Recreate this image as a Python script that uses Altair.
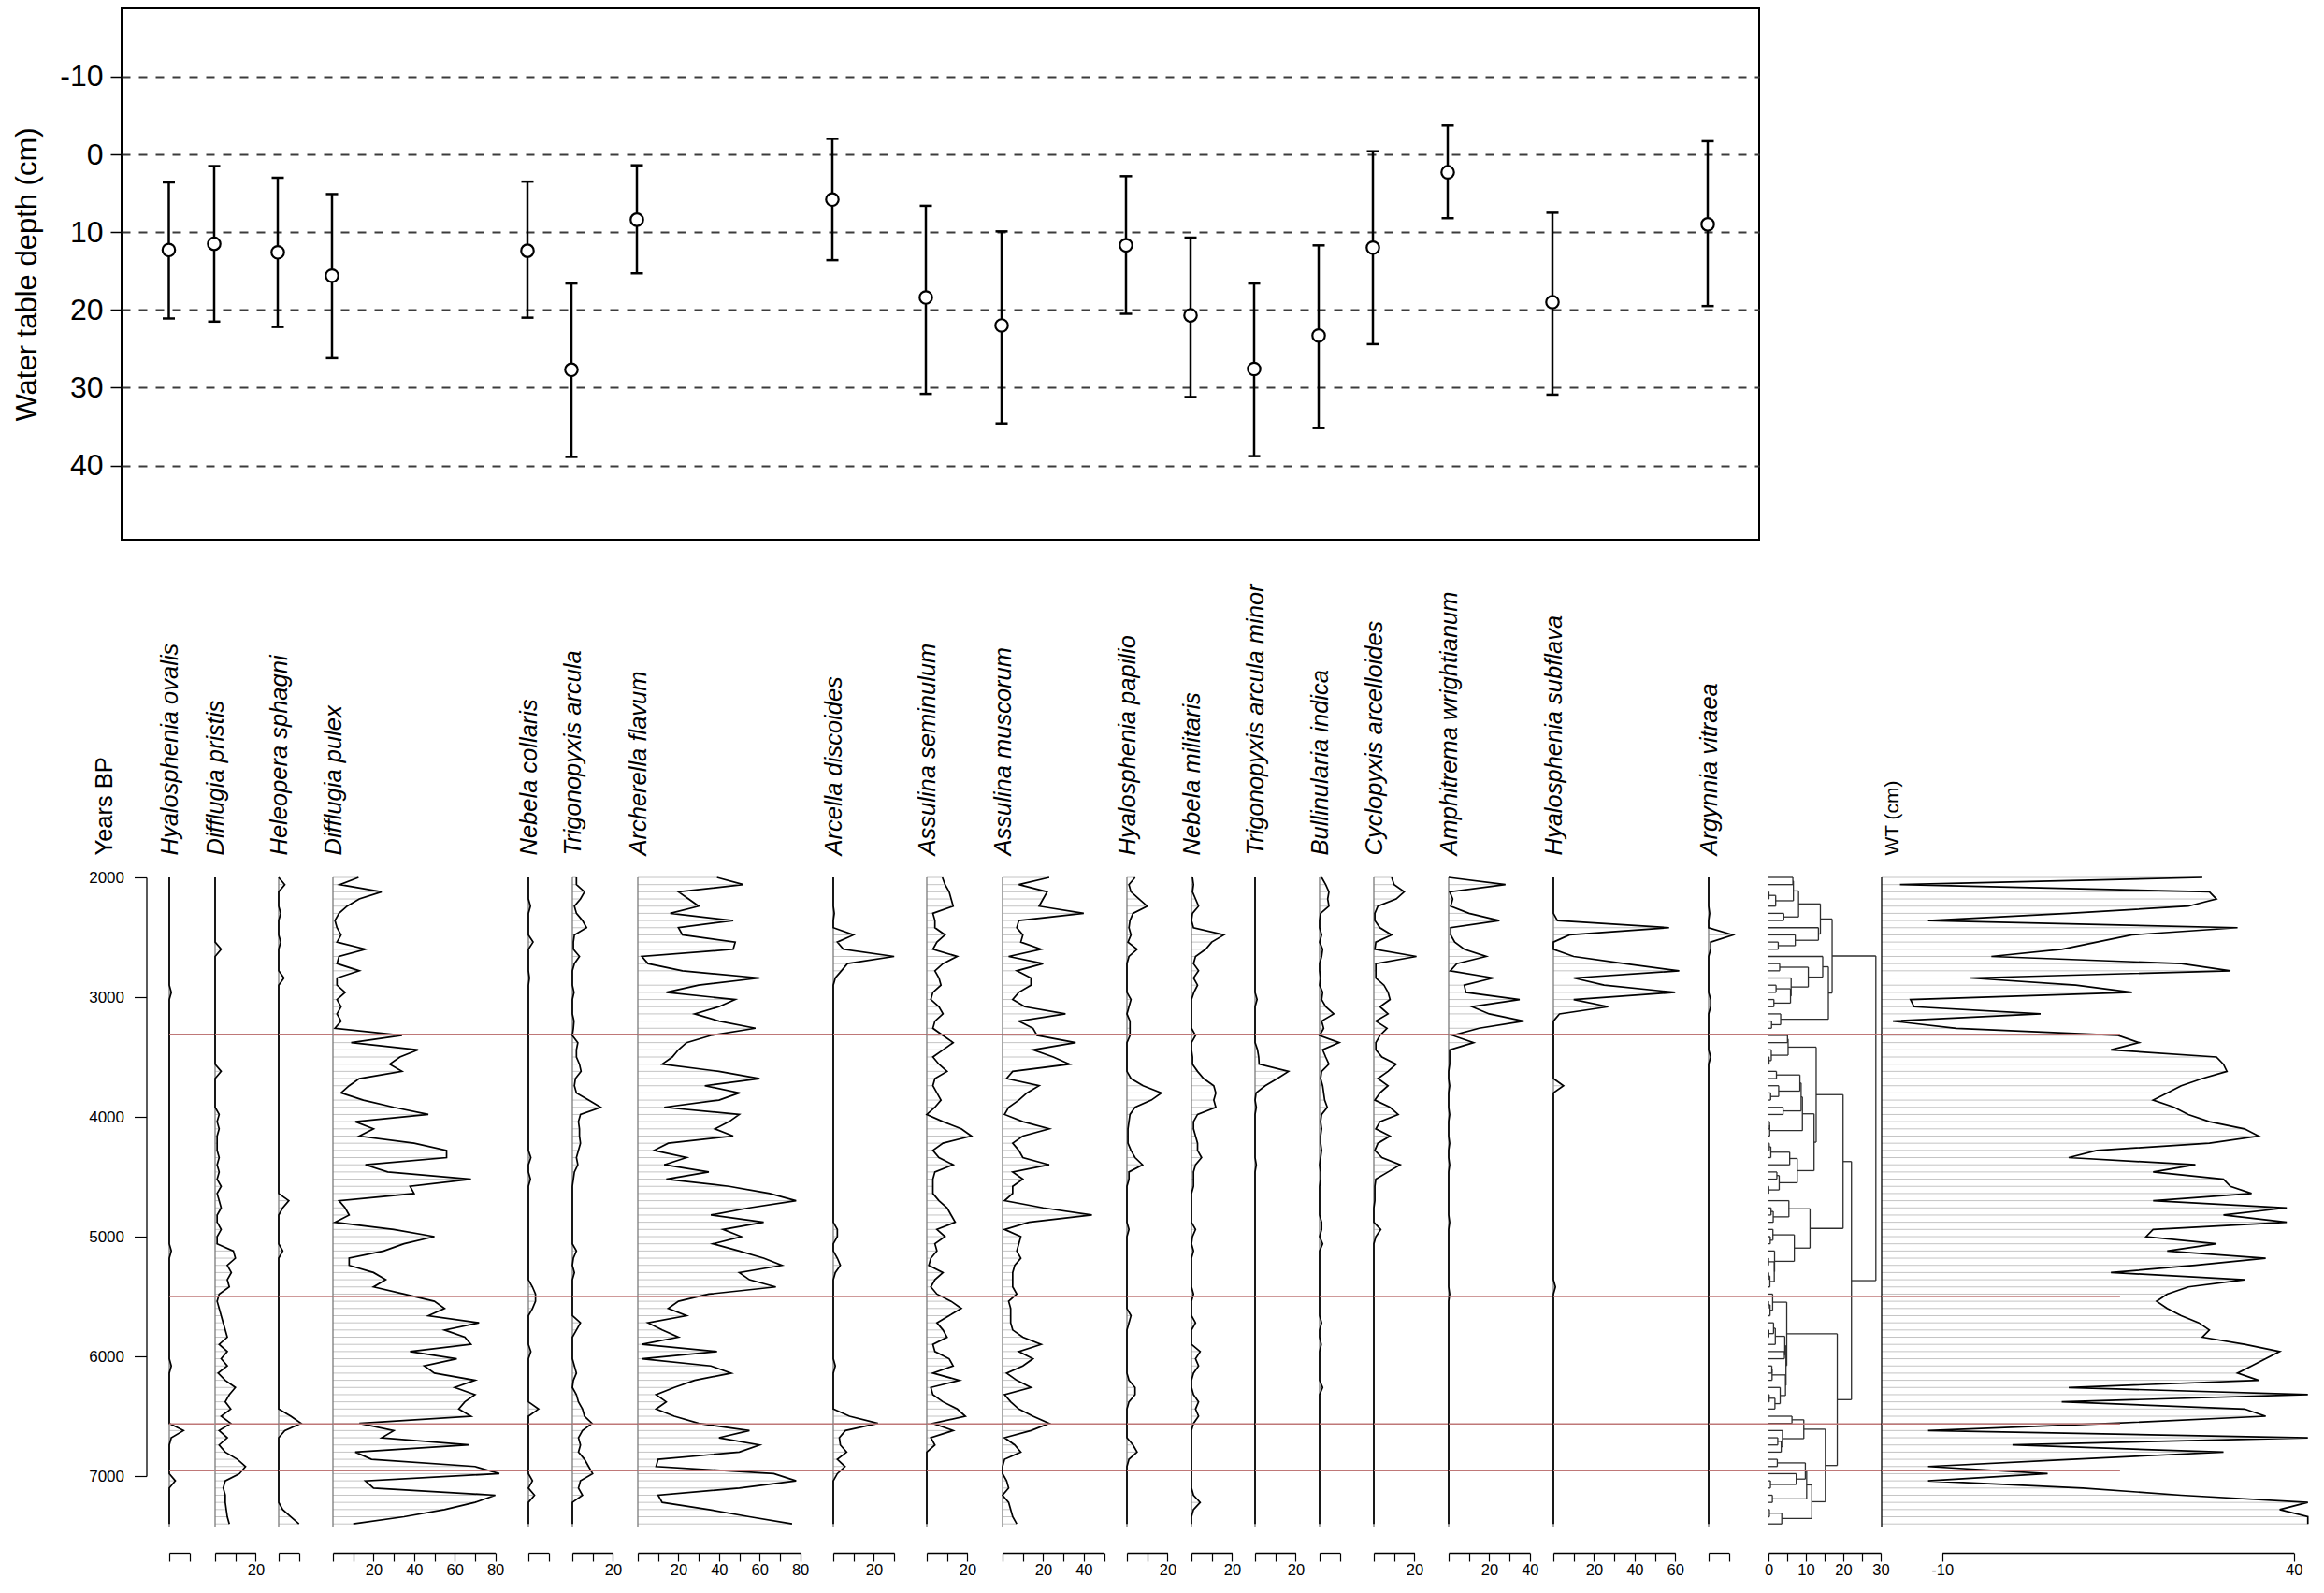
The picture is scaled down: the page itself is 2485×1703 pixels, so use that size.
import altair as alt
import numpy as np
import pandas as pd

# ---------------------------------------------------------------- data
ages = [2000, 2060, 2120, 2180, 2240, 2300, 2360, 2420, 2480, 2540,
        2600, 2660, 2720, 2780, 2840, 2900, 2960, 3020, 3080, 3140,
        3200, 3260, 3320, 3380, 3440, 3500, 3560, 3620, 3680, 3740,
        3800, 3860, 3920, 3980, 4040, 4100, 4160, 4220, 4280, 4340,
        4400, 4460, 4520, 4580, 4640, 4700, 4760, 4820, 4880, 4940,
        5000, 5060, 5120, 5180, 5240, 5300, 5360, 5420, 5480, 5540,
        5600, 5660, 5720, 5780, 5840, 5900, 5960, 6020, 6080, 6140,
        6200, 6260, 6320, 6380, 6440, 6500, 6560, 6620, 6680, 6740,
        6800, 6860, 6920, 6980, 7040, 7100, 7160, 7220, 7280, 7340,
        7400]

taxa = ["Hyalosphenia ovalis", "Difflugia pristis", "Heleopera sphagni",
        "Difflugia pulex", "Nebela collaris", "Trigonopyxis arcula",
        "Archerella flavum", "Arcella discoides", "Assulina seminulum",
        "Assulina muscorum", "Hyalosphenia papilio", "Nebela militaris",
        "Trigonopyxis arcula minor", "Bullinularia indica",
        "Cyclopyxis arcelloides", "Amphitrema wrightianum",
        "Hyalosphenia subflava", "Argynnia vitraea"]

# water-table optima (cm) with tolerance limits
wt_opt = [12.3, 11.5, 12.6, 15.6, 12.4, 27.7, 8.4, 5.8, 18.4,
          22.0, 11.7, 20.7, 27.6, 23.3, 12.0, 2.3, 19.0, 9.0]
wt_lo = [3.6, 1.5, 3.0, 5.1, 3.5, 16.6, 1.4, -2.0, 6.6,
         9.9, 2.8, 10.7, 16.6, 11.7, -0.4, -3.7, 7.5, -1.7]
wt_hi = [21.1, 21.5, 22.2, 26.2, 21.0, 38.9, 15.3, 13.6, 30.8,
         34.6, 20.5, 31.2, 38.8, 35.2, 24.4, 8.2, 30.9, 19.5]

# relative abundances (%) per sample
hyal_ovalis = [0, 0, 0, 0, 0, 0, 0, 0, 0, 0,
               0, 0, 0, 0, 0, 0, 1, 0, 0, 0,
               0, 0, 0, 0, 0, 0, 0, 0, 0, 0,
               0, 0, 0, 0, 0, 0, 0, 0, 0, 0,
               0, 0, 0, 0, 0, 0, 0, 0, 0, 0,
               0, 0, 1, 0, 0, 0, 0, 0, 0, 0,
               0, 0, 0, 0, 0, 0, 0, 0, 1, 0,
               0, 0, 0, 0, 0, 0, 0, 7, 1, 0,
               0, 0, 0, 0, 3, 0, 0, 0, 0, 0,
               0]
diff_pristis = [0, 0, 0, 0, 0, 0, 0, 0, 0, 0,
                3, 0, 0, 0, 0, 0, 0, 0, 0, 0,
                0, 0, 0, 0, 0, 0, 0, 3, 0, 0,
                0, 0, 0, 2, 1, 2, 1, 1, 1, 2,
                1, 2, 1, 3, 1, 2, 3, 1, 1, 3,
                1, 1, 9, 10, 6, 8, 6, 7, 2, 1,
                2, 3, 4, 5, 6, 2, 6, 3, 6, 1.5,
                5, 10, 7, 5, 7.7, 3, 7.7, 2, 6, 2,
                5, 11, 15, 12, 5, 4, 5, 5, 5.5, 6,
                7]
hele_sphagni = [0, 3, 0, 0, 0, 1, 0, 0, 0, 1,
                0, 0, 0, 0, 2.6, 0, 0, 0, 0, 0,
                0, 0, 0, 0, 0, 0, 0, 0, 0, 0,
                0, 0, 0, 0, 0, 0, 0, 0, 0, 0,
                0, 0, 0, 0, 0, 5, 2, 0, 0, 0,
                0, 0, 2, 0, 0, 0, 0, 0, 0, 0,
                0, 0, 0, 0, 0, 0, 0, 0, 0, 0,
                0, 0, 0, 0, 0, 6, 11, 3, 0, 0,
                0, 0, 0, 0, 0, 0, 0, 0, 2, 6,
                10]
diff_pulex = [12.6, 3.4, 24, 13, 7, 3, 1, 2, 4, 2,
              16, 3, 2, 13, 2, 2, 6, 2, 4, 2,
              4, 1, 34, 9, 42, 33, 28, 34, 13, 8,
              4, 15, 30, 47, 11, 20, 13, 40, 56, 56,
              16, 27, 68, 38, 40, 3, 6, 8, 1, 30,
              50, 35, 25, 8, 8, 20, 26, 20, 35, 50,
              55, 47, 72, 55, 65, 68, 38, 61, 45, 50,
              70, 60, 70, 65, 62, 68, 13, 30, 24, 67,
              11, 19, 70, 82, 16, 20, 80, 70, 55, 35,
              10]
nebe_collaris = [0, 0, 0, 0, 1, 0, 0, 0, 0, 2.3,
                 0, 0, 0, 0, 0.5, 0, 0, 0, 0, 0,
                 0, 0, 0, 0, 0, 0, 0, 0, 0, 0,
                 0, 0, 0, 0, 0, 0, 0, 0, 0, 1.2,
                 0, 0, 1, 0, 0, 0, 0, 0, 0, 0,
                 0, 0, 0, 0, 0, 0, 0, 2, 3.5, 3.5,
                 2, 0, 0, 0, 0, 0, 1.2, 0, 0, 0,
                 0, 0, 0, 0, 5, 0, 0, 0, 0, 0,
                 0, 0, 0, 0, 2, 0, 3, 0, 0, 0,
                 0]
trig_arcula = [2, 2, 6, 4, 1, 2, 5, 7, 1, 0.5,
               0.5, 3.5, 1, 0, 0, 0, 0.8, 0, 0, 0,
               0.8, 0.5, 0, 2.7, 2, 2, 3.5, 4.3, 1.5, 1,
               2, 8, 14, 4, 3, 3.5, 3.5, 4, 3, 2,
               2.7, 1, 0.5, 0, 0, 0, 0, 0, 0, 0,
               0, 0, 2, 0.5, 0, 1, 0, 0, 0, 0,
               0, 0, 4, 2, 0, 0, 0, 0, 1, 2,
               0.5, 0, 2, 3, 5, 6, 9.7, 5, 3, 4,
               3, 6, 8, 10, 4, 3, 5, 0, 0, 0,
               0]
arch_flavum = [39, 52, 20, 25, 30, 16, 47, 20, 22, 48,
               47, 2, 5, 22, 60, 30, 14, 48, 40, 28,
               40, 58, 36, 24, 20, 17, 12, 40, 60, 33,
               50, 40, 13, 50, 45, 38, 47, 15, 8, 24,
               13, 35, 14, 45, 65, 78, 55, 36, 62, 42,
               51, 37, 50, 62, 71, 50, 55, 68, 35, 20,
               15, 24, 5, 12, 20, 2, 39, 2, 36, 46,
               28, 18, 9, 14, 9, 18, 30, 55, 40, 60,
               50, 10, 9, 67, 78, 50, 10, 12, 35, 55,
               76]
arce_discoides = [0, 0, 0, 0, 0, 0.5, 0, 0, 10, 2,
                  5, 30, 7, 4, 1, 0, 0, 0, 0, 0,
                  0, 0, 0, 0, 0, 0, 0, 0, 0, 0,
                  0, 0, 0, 0, 0, 0, 0, 0, 0, 0,
                  0, 0, 0, 0, 0, 0, 0, 0, 0, 2,
                  2, 0, 0, 2, 3.5, 1, 0, 0, 0, 0,
                  0, 0, 0, 0, 0, 0, 0, 0, 1, 0,
                  0, 0, 0, 0, 0, 8, 22, 6, 3, 3.5,
                  6.6, 2, 5.8, 2, 0, 0, 0, 0, 0, 0,
                  0]
assu_seminulum = [7.7, 9, 11, 12, 13, 3, 4, 4, 9, 5,
                  3, 15, 8, 4, 6, 7, 3, 2, 6, 8,
                  4, 3, 8, 13, 8, 3, 6, 10, 4, 3,
                  5, 7, 4, 0, 8, 17, 22, 8, 3, 6,
                  13, 4, 3, 3, 3, 6, 10, 12, 14, 5,
                  9, 4, 5, 2, 1, 8, 4, 2, 5, 12,
                  17, 11, 5, 8, 10, 3, 4, 11, 13, 3,
                  16, 2, 3, 8, 15, 19, 3, 13, 2, 4,
                  0, 0, 0, 0, 0, 0, 0, 0, 0, 0,
                  0]
assu_muscorum = [23, 8, 22, 20, 18, 40, 8, 7, 10, 9,
                 19, 3, 20, 7, 14, 14, 8, 5, 11, 31,
                 8, 15, 17, 36, 15, 25, 33, 5, 2, 18,
                 12, 8, 3, 1, 10, 23, 10, 5, 8, 10,
                 23, 5, 10, 5, 5, 1, 20, 44, 13, 1,
                 9, 8, 7, 9, 6, 5, 5, 5, 7, 3,
                 4, 4, 4, 5, 10, 19, 8, 15, 10, 2,
                 7, 14, 1, 4, 8, 15, 23, 14, 1, 6,
                 9, 1, 0, 0, 2, 3, 0, 3, 4, 5,
                 7]
hyal_papilio = [4, 1, 2, 6, 10, 3, 1.5, 1, 2, 0.5,
                5, 1, 0, 0, 0, 0, 0, 2, 1, 0,
                1.5, 1.5, 1.5, 0, 0, 0, 0, 0, 2, 8,
                17, 12, 4, 1.5, 1, 0.5, 0.5, 0.5, 2, 4,
                7.7, 1, 1, 0, 0, 0, 0, 0, 0, 1,
                0, 0, 0, 0, 0, 0, 0, 0, 0, 0,
                0, 2, 1, 0, 0, 0, 0, 0, 0, 0,
                1, 4, 4, 1, 0, 0, 0, 0, 0, 3,
                5, 1, 0, 0, 0, 0, 0, 0, 0, 0,
                0]
nebe_militaris = [0.5, 1, 0.5, 2, 3.5, 0.5, 0, 1, 16, 10,
                  7, 2, 1, 3.5, 1, 3, 1.2, 0, 0, 0,
                  0, 0, 2, 0, 0, 0.5, 0.5, 3, 6, 11,
                  12, 11, 12, 3, 1, 1, 2, 3, 3, 5,
                  2, 1, 1, 1, 0, 0, 0, 0, 0, 2,
                  0.5, 0, 1, 0, 0, 0, 0, 0, 1, 0,
                  0, 0, 2, 0, 0, 0, 4.3, 2, 3.5, 1,
                  0, 0, 1, 3.5, 2, 3.5, 1, 0, 0, 0,
                  0, 0, 0, 0, 0, 0, 1, 4.3, 1, 0,
                  0]
trig_minor = [0, 0, 0, 0, 0, 0, 0, 0, 0, 0,
              0, 0, 0, 0, 0, 0, 0, 1, 0, 0,
              0, 0, 0, 0, 1.2, 1.8, 2, 16.5, 11, 5,
              0.5, 0, 0.6, 0, 0, 0, 0, 0, 0, 0,
              0.6, 0, 0, 0, 0, 0, 0, 0, 0, 0,
              0, 0, 0, 0, 0, 0, 0, 0, 0, 0,
              0, 0, 0, 0, 0, 0, 0, 0, 0, 0,
              0, 0, 0, 0, 0, 0, 0, 0, 0, 0,
              0, 0, 0, 0, 0, 0, 0, 0, 0, 0,
              0]
bull_indica = [1, 3, 4.6, 4, 4.6, 0.5, 0, 0, 1, 0,
               1.5, 1, 0, 0, 0.5, 0, 1.5, 1, 3, 7,
               1, 2, 0, 9.7, 1.5, 3, 4.6, 1, 0.5, 1.5,
               2, 2.5, 3.8, 1, 0.5, 1, 0.5, 0.5, 1, 0.5,
               0, 0.5, 0.5, 0, 0, 0, 0, 0, 1, 1,
               0, 1.5, 0, 0, 0, 0, 0, 0, 0, 0,
               0, 0, 1, 0, 0, 0.8, 0, 0, 0, 0,
               0, 1.5, 0, 0, 0, 0, 0, 0, 0, 0,
               0, 0, 0, 0, 0, 0, 0, 0, 0, 0,
               0]
cycl_arcelloides = [8.8, 10, 15, 11, 2, 0.5, 0.5, 3, 8.8, 1,
                    0.5, 21, 1, 1, 1, 5, 7, 8, 3, 7,
                    1, 6.5, 3, 1, 1, 4, 11, 7, 2, 7,
                    3, 0.5, 8, 12, 3, 1, 8, 2, 0.5, 4,
                    13, 7, 1, 0.5, 0.5, 0.5, 0, 0, 0, 3.4,
                    1, 0, 0, 0, 0, 0, 0, 0, 0, 0,
                    0, 0, 0, 0, 0, 0, 0, 0, 0, 0,
                    0, 0, 0, 0, 0, 0, 0, 0, 0, 0,
                    0, 0, 0, 0, 0, 0, 0, 0, 0, 0,
                    0]
amph_wrightianum = [0, 28, 0.5, 2, 1, 10, 25, 1, 1, 3,
                    7.7, 18.5, 4, 0.8, 22, 7.7, 8.5, 35, 11.5, 20,
                    37, 15, 2, 12.3, 0.5, 0.5, 0.5, 0, 0, 0.5,
                    0, 0, 0, 0.5, 0, 0, 0, 0.5, 0, 0,
                    0.5, 0, 0, 0, 0, 0, 0, 0, 0.5, 0,
                    0, 0, 0, 0, 0, 0, 0, 0, 0.5, 0,
                    0, 0, 0, 0, 0, 0, 0, 0, 0, 0,
                    0, 0, 0, 0, 0, 0, 0, 0, 0, 0,
                    0, 0, 0, 0, 0, 0, 0, 0, 0, 0,
                    0]
hyal_subflava = [0, 0, 0, 0, 0, 0, 2, 57, 8, 0,
                 0, 10, 35, 62, 10, 25, 60, 10, 27, 3,
                 0, 0, 0, 0, 0, 0, 0, 0, 0, 5,
                 0, 0, 0, 0, 0, 0, 0, 0, 0, 0,
                 0, 0, 0, 0, 0, 0, 0, 0, 0, 0,
                 0, 0, 0, 0, 0, 0, 0, 1, 0, 0,
                 0, 0, 0, 0, 0, 0, 0, 0, 0, 0,
                 0, 0, 0, 0, 0, 0, 0, 0, 0, 0,
                 0, 0, 0, 0, 0, 0, 0, 0, 0, 0,
                 0]
argy_vitraea = [0, 0, 0, 0, 0, 0.5, 0, 0, 12, 1,
                1, 0, 0, 0, 0, 0, 0, 1, 1, 0,
                0, 0, 0, 0, 0, 1, 0, 0, 0, 0,
                0, 0, 0, 0, 0, 0, 0, 0, 0, 0,
                0, 0, 0, 0, 0, 0, 0, 0, 0, 0,
                0, 0, 0, 0, 0, 0, 0, 0, 0, 0,
                0, 0, 0, 0, 0, 0, 0, 0, 0, 0,
                0, 0, 0, 0, 0, 0, 0, 0, 0, 0,
                0, 0, 0, 0, 0, 0, 0, 0, 0, 0,
                0]

# reconstructed water-table depth (cm)
wt_recon = [27, -16, 28, 29, 25, 8, -12, 32, 17, 12,
            7, -3, 24, 31, -6, 9, 17, -14.5, -14, 4,
            -17, -8, 15, 18, 14, 29, 30, 30.5, 27, 24,
            22, 20, 23, 25, 28, 33, 35, 28, 12, 8,
            26, 20, 30, 31, 34, 20, 39, 30, 39, 20,
            19, 29, 22, 36, 26, 14, 33, 25, 22, 20.5,
            22, 24, 26.5, 28, 27, 33, 38, 36, 34, 32,
            35, 8, 42, 7, 33, 36, 14, -12, 42, 0,
            30, 8.5, -12, 5, -12, 10, 24, 42, 38, 42,
            42]

zone_ages = [3310, 5500, 6565, 6955]
dendro_root_height = 28.7          # total dispersion at the root (CONISS)

taxa_vals = [hyal_ovalis, diff_pristis, hele_sphagni, diff_pulex,
             nebe_collaris, trig_arcula, arch_flavum, arce_discoides,
             assu_seminulum, assu_muscorum, hyal_papilio, nebe_militaris,
             trig_minor, bull_indica, cycl_arcelloides, amph_wrightianum,
             hyal_subflava, argy_vitraea]

# ---------------------------------------------------------------- layout / style
FONT = "Liberation Sans"
PX_PER_PCT = 2.17
COL_X = [178.5, 227, 295, 353, 562, 609, 679, 888, 988, 1069,
         1202, 1271, 1339, 1408, 1466, 1546, 1658, 1824]
AX_MAX = [10, 20, 10, 80, 10, 20, 80, 30, 20, 50,
          20, 20, 20, 10, 20, 40, 60, 10]
DENDRO_X = 1888
WT_X = 2009
DENDRO_PX = 4.0
WT_PX = 7.52
WT_XMIN, WT_XMAX = -18.6, 42.0
WT_ZONE_END = 15.3
TOP_X0, TOP_X1 = 128, 1879
TOP_H = 568
TOP_YDOM = [-18.77, 49.55]
YEAR_PX = 128.0
PLOT_H = 694
SAMPLE_GRAY = "#c4c4c4"
BASE_GRAY = "#7a7a7a"
ZONE_RED = "#bf7878"
HYPHEN_LABEL = "datum.value + ''"

# ---------------------------------------------------------------- top panel
top_df = pd.DataFrame({"taxon": taxa, "xpos": COL_X, "opt": wt_opt,
                       "lo": wt_lo, "hi": wt_hi})
xs_top = alt.Scale(domain=[TOP_X0, TOP_X1], nice=False, zero=False)
ys_top = alt.Scale(domain=TOP_YDOM, reverse=True, nice=False, zero=False)
top_yaxis = alt.Axis(values=[-10, 0, 10, 20, 30, 40], labelExpr=HYPHEN_LABEL,
                     grid=True, gridDash=[9, 9], gridColor="#3c3c3c",
                     gridWidth=1.8, tickSize=12, tickColor="black",
                     tickWidth=1.5, labelFontSize=32, labelPadding=8,
                     labelColor="black", domain=False,
                     title="Water table depth (cm)", titleFontSize=31,
                     titleFontWeight="normal", titleColor="black",
                     titlePadding=5, minExtent=80, maxExtent=80)
tb = alt.Chart(top_df)
err = tb.mark_rule(color="black", strokeWidth=2.5).encode(
    x=alt.X("xpos:Q", scale=xs_top, axis=None),
    y=alt.Y("lo:Q", scale=ys_top, axis=top_yaxis),
    y2="hi:Q")
cap_lo = tb.mark_tick(orient="horizontal", size=13, thickness=2.5,
                      color="black", opacity=1).encode(
    x=alt.X("xpos:Q", scale=xs_top, axis=None),
    y=alt.Y("lo:Q", scale=ys_top, axis=None))
cap_hi = tb.mark_tick(orient="horizontal", size=13, thickness=2.5,
                      color="black", opacity=1).encode(
    x=alt.X("xpos:Q", scale=xs_top, axis=None),
    y=alt.Y("hi:Q", scale=ys_top, axis=None))
pts = tb.mark_point(shape="circle", filled=True, fill="white",
                    stroke="black", strokeWidth=2.2, size=180,
                    opacity=1).encode(
    x=alt.X("xpos:Q", scale=xs_top, axis=None),
    y=alt.Y("opt:Q", scale=ys_top, axis=None))
top = (alt.layer(err, cap_lo, cap_hi, pts)
       .resolve_axis(x="independent", y="independent")
       .properties(width=TOP_X1 - TOP_X0, height=TOP_H,
                   view=alt.ViewBackground(stroke="black", strokeWidth=2)))

# ---------------------------------------------------------------- bottom panels
rows = []
for name, vals in zip(taxa, taxa_vals):
    for a, v in zip(ages, vals):
        rows.append((name, a, float(v)))
long_df = pd.DataFrame(rows, columns=["taxon", "age", "value"])
long_df["base"] = 0.0
zone_df = pd.DataFrame({"age": zone_ages})
base_df = pd.DataFrame({"base": [0.0]})

ys = alt.Scale(domain=[2000, 7000], range=[0, 5 * YEAR_PX], nice=False, zero=False)


def bottom_axis(values, label_expr):
    return alt.Axis(orient="bottom", values=values, labelExpr=label_expr,
                    tickSize=9, tickColor="black", tickWidth=1.2,
                    domainColor="black", domainWidth=1.3, labelFontSize=16.5,
                    labelPadding=1, labelColor="black", offset=28, grid=False,
                    title=None, labelOverlap=False, labelFlush=False,
                    labelBound=False)


def title_axis(name, italic=True, baseline="middle", size=25.5):
    return alt.Axis(orient="top", labels=False, ticks=False, domain=False,
                    grid=False, title=name, titleAngle=270, titleAlign="left",
                    titleBaseline=baseline, titleX=0, titleY=-24,
                    titleFontSize=size,
                    titleFontStyle="italic" if italic else "normal",
                    titleFontWeight="normal", titleColor="black", offset=0)


years_axis = alt.Axis(orient="left", values=[2000, 3000, 4000, 5000, 6000, 7000],
                      format="d", offset=24.5, tickSize=13, tickColor="black",
                      tickWidth=1.2, domainColor="black", domainWidth=1.3,
                      labelFontSize=17, labelPadding=11, labelColor="black",
                      grid=False, title="Years BP", titleAngle=270,
                      titleAlign="left", titleBaseline="middle", titleX=-45,
                      titleY=-24, titleFontSize=25.5, titleFontWeight="normal",
                      titleColor="black")

# empty strip left of the first column so that the top box starts further left
spacer = (alt.Chart(zone_df).mark_rule(opacity=0)
          .encode(y=alt.Y("age:Q", scale=ys, axis=None))
          .properties(width=COL_X[0] - TOP_X0, height=PLOT_H))

panels = []
for k, name in enumerate(taxa):
    axmax = AX_MAX[k]
    right = COL_X[k + 1] if k + 1 < len(COL_X) else DENDRO_X
    width = right - COL_X[k]
    d = long_df[long_df.taxon == name]
    xs = alt.Scale(domain=[0, axmax], range=[0, axmax * PX_PER_PCT],
                   nice=False, zero=False)
    ticks = list(range(0, axmax + 1, 10))
    bars = alt.Chart(d).mark_rule(color=SAMPLE_GRAY, strokeWidth=1).encode(
        x=alt.X("base:Q", scale=xs,
                axis=bottom_axis(ticks, "datum.value > 0 && datum.value % 20 == 0 ? datum.label : ''")),
        x2="value:Q",
        y=alt.Y("age:Q", scale=ys, axis=years_axis if k == 0 else None))
    bline = alt.Chart(base_df).mark_rule(color=BASE_GRAY, strokeWidth=1.3).encode(
        x=alt.X("base:Q", scale=xs, axis=None))
    curve = alt.Chart(d).mark_line(color="black", strokeWidth=1.7).encode(
        x=alt.X("value:Q", scale=xs, axis=title_axis(name)),
        y=alt.Y("age:Q", scale=ys, axis=None),
        order="age:Q")
    zones = alt.Chart(zone_df).mark_rule(color=ZONE_RED, strokeWidth=1.4).encode(
        y=alt.Y("age:Q", scale=ys, axis=None))
    panels.append(alt.layer(bars, bline, curve, zones)
                  .resolve_axis(x="independent", y="independent")
                  .properties(width=width, height=PLOT_H))

# ---------------------------------------------------------------- CONISS dendrogram
X = np.sqrt(np.array(taxa_vals, dtype=float).T / 100.0)
clusters = [{"n": 1, "s": X[i].copy(), "y": float(ages[i]), "h": 0.0}
            for i in range(len(ages))]
segs = []
disp = 0.0
while len(clusters) > 1:
    incs = []
    for k in range(len(clusters) - 1):
        a, b = clusters[k], clusters[k + 1]
        diff = a["s"] / a["n"] - b["s"] / b["n"]
        incs.append(a["n"] * b["n"] / (a["n"] + b["n"]) * float(diff @ diff))
    k = int(np.argmin(incs))
    disp += incs[k]
    a, b = clusters[k], clusters[k + 1]
    segs.append((a["h"], disp, a["y"], a["y"]))
    segs.append((b["h"], disp, b["y"], b["y"]))
    segs.append((disp, disp, a["y"], b["y"]))
    clusters[k:k + 2] = [{"n": a["n"] + b["n"], "s": a["s"] + b["s"],
                          "y": (a["y"] + b["y"]) / 2.0, "h": disp}]
hscale = dendro_root_height / disp
dendro_df = pd.DataFrame(segs, columns=["x1", "x2", "y1", "y2"])
dendro_df[["x1", "x2"]] *= hscale

dxs = alt.Scale(domain=[0, 30], range=[0, 30 * DENDRO_PX], nice=False, zero=False)
dseg = alt.Chart(dendro_df).mark_rule(color="#2e2e2e", strokeWidth=1.3).encode(
    x=alt.X("x1:Q", scale=dxs,
            axis=bottom_axis(list(range(0, 31, 5)), "datum.value % 10 == 0 ? datum.label : ''")),
    x2="x2:Q",
    y=alt.Y("y1:Q", scale=ys, axis=None),
    y2="y2:Q")
dzones = alt.Chart(zone_df).mark_rule(color=ZONE_RED, strokeWidth=1.4).encode(
    y=alt.Y("age:Q", scale=ys, axis=None))
dendro_panel = (alt.layer(dseg, dzones)
                .resolve_axis(x="independent", y="independent")
                .properties(width=WT_X - DENDRO_X, height=PLOT_H))

# ---------------------------------------------------------------- WT reconstruction
wt_df = pd.DataFrame({"age": ages, "value": wt_recon})
wt_df["base"] = WT_XMIN
wt_base_df = pd.DataFrame({"base": [WT_XMIN]})
wt_zone_df = pd.DataFrame({"age": zone_ages})
wt_zone_df["x1"] = WT_XMIN
wt_zone_df["x2"] = WT_ZONE_END
wxs = alt.Scale(domain=[-10, 40],
                range=[(-10 - WT_XMIN) * WT_PX, (40 - WT_XMIN) * WT_PX],
                nice=False, zero=False)
wbars = alt.Chart(wt_df).mark_rule(color=SAMPLE_GRAY, strokeWidth=1).encode(
    x=alt.X("base:Q", scale=wxs, axis=bottom_axis([-10, 40], HYPHEN_LABEL)),
    x2="value:Q",
    y=alt.Y("age:Q", scale=ys, axis=None))
wline = alt.Chart(wt_base_df).mark_rule(color="black", strokeWidth=1.3).encode(
    x=alt.X("base:Q", scale=wxs, axis=None))
wcurve = alt.Chart(wt_df).mark_line(color="black", strokeWidth=1.7).encode(
    x=alt.X("value:Q", scale=wxs,
            axis=title_axis("WT (cm)", italic=False, baseline="top", size=21)),
    y=alt.Y("age:Q", scale=ys, axis=None),
    order="age:Q")
wzones = alt.Chart(wt_zone_df).mark_rule(color=ZONE_RED, strokeWidth=1.4).encode(
    x=alt.X("x1:Q", scale=wxs, axis=None), x2="x2:Q",
    y=alt.Y("age:Q", scale=ys, axis=None))
wt_panel = (alt.layer(wbars, wline, wcurve, wzones)
            .resolve_axis(x="independent", y="independent")
            .properties(width=(WT_XMAX - WT_XMIN) * WT_PX, height=PLOT_H))

bottom = alt.hconcat(spacer, *panels, dendro_panel, wt_panel,
                     spacing=0, bounds="flush")

chart = (alt.vconcat(top, bottom, spacing=45)
         .properties(padding={"left": 4, "top": 0, "right": 0, "bottom": 0})
         .configure(font=FONT)
         .configure_view(strokeWidth=0))

chart.save("out.html", embed_options={"renderer": "svg", "actions": False})
